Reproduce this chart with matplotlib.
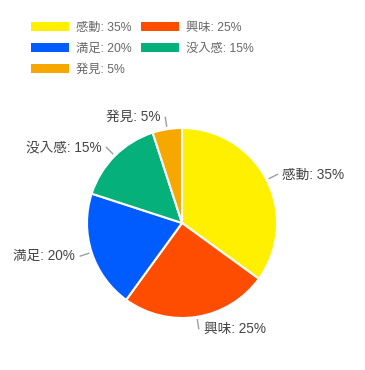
"""Pie chart of reader impressions."""

import numpy as np
import matplotlib
matplotlib.use("Agg")
import matplotlib.pyplot as plt
from matplotlib.patches import Patch

plt.rcParams["font.family"] = ["Liberation Sans", "Noto Sans CJK JP", "DejaVu Sans"]

categories = ["感動", "興味", "満足", "没入感", "発見"]
shares = [35, 25, 20, 15, 5]
colors = ["#FFF000", "#FF4D00", "#005CFF", "#05B07A", "#F7A800"]

W, H = 365, 370
CX, CY, R = 182, H - 223, 95

fig = plt.figure(figsize=(W / 100, H / 100), dpi=100)
ax = fig.add_axes([0, 0, 1, 1])

wedges, _ = ax.pie(
    shares,
    colors=colors,
    startangle=90,
    counterclock=False,
    center=(CX, CY),
    radius=R,
    wedgeprops=dict(edgecolor="white", linewidth=1.5),
    frame=True,
)
ax.set_xlim(0, W)
ax.set_ylim(0, H)
ax.set_aspect("equal")
ax.axis("off")

labels = [f"{c}: {v}%" for c, v in zip(categories, shares)]

# leader lines + labels at the middle of each wedge
for w, lab in zip(wedges, labels):
    mid = np.deg2rad((w.theta1 + w.theta2) / 2)
    c, s = np.cos(mid), np.sin(mid)
    x0, y0 = CX + (R + 3) * c, CY + (R + 3) * s
    x1, y1 = CX + (R + 12) * c, CY + (R + 12) * s
    ax.plot([x0, x1], [y0, y1], color="#9e9e9e", linewidth=1)
    ha = "left" if c > 0 else "right"
    ax.text(x1 + (5 if c > 0 else -5), y1, lab, ha=ha, va="center",
            fontsize=9.8, color="#444444")

order = [0, 2, 4, 1, 3]
handles = [Patch(facecolor=colors[i], edgecolor="none") for i in order]
fig.legend(
    handles,
    [labels[i] for i in order],
    ncol=2,
    loc="upper left",
    bbox_to_anchor=(20 / W, 1 - 11 / H),
    frameon=False,
    fontsize=8.8,
    labelcolor="#666666",
    handlelength=3.1,
    handleheight=0.8,
    handletextpad=0.55,
    columnspacing=0.8,
    labelspacing=0.72,
)

fig.savefig("out.png", dpi=100)
